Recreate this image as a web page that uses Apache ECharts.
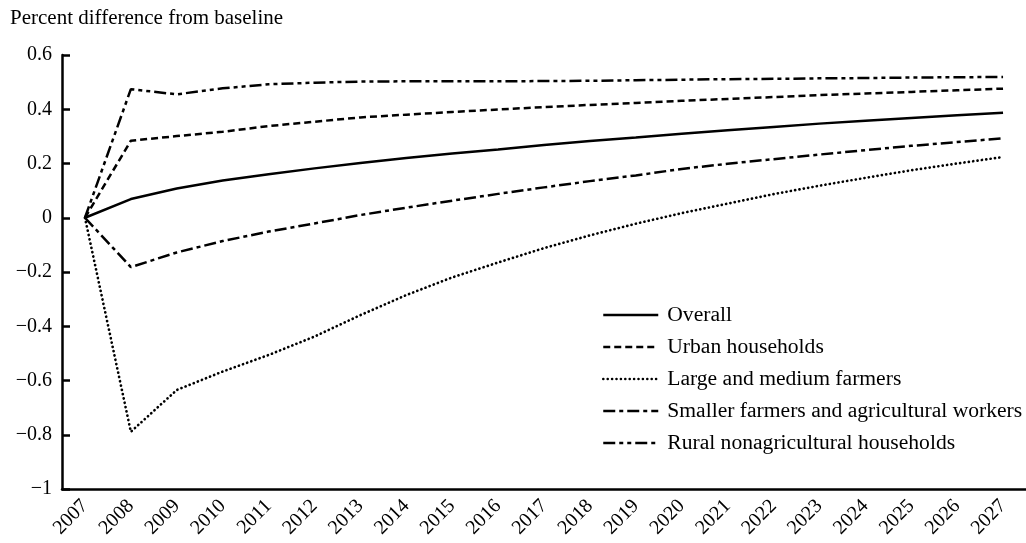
<!DOCTYPE html>
<html>
<head>
<meta charset="utf-8">
<script src="https://cdn.jsdelivr.net/npm/echarts@6/dist/echarts.min.js"></script>
<style>
  html, body { margin: 0; padding: 0; background: #fff; }
  #chart { width: 1026px; height: 543px; }
</style>
</head>
<body>
<div id="chart"></div>
<script>
const years = ['2007','2008','2009','2010','2011','2012','2013','2014','2015','2016','2017','2018','2019','2020','2021','2022','2023','2024','2025','2026','2027'];
const overall = [0, 0.069, 0.108, 0.137, 0.160, 0.182, 0.202, 0.220, 0.237, 0.252, 0.268, 0.283, 0.296, 0.310, 0.323, 0.335, 0.347, 0.358, 0.368, 0.378, 0.387];
const urban = [0, 0.284, 0.301, 0.317, 0.338, 0.354, 0.370, 0.380, 0.390, 0.399, 0.408, 0.416, 0.423, 0.431, 0.438, 0.445, 0.452, 0.458, 0.464, 0.470, 0.476];
const largeFarmers = [0, -0.789, -0.635, -0.567, -0.506, -0.438, -0.359, -0.285, -0.220, -0.165, -0.112, -0.065, -0.022, 0.017, 0.052, 0.087, 0.118, 0.147, 0.175, 0.200, 0.224];
const smallerFarmers = [0, -0.182, -0.128, -0.086, -0.051, -0.021, 0.010, 0.037, 0.063, 0.088, 0.112, 0.135, 0.156, 0.180, 0.199, 0.216, 0.233, 0.249, 0.265, 0.279, 0.293];
const rural = [0, 0.474, 0.455, 0.477, 0.492, 0.498, 0.502, 0.503, 0.503, 0.503, 0.504, 0.505, 0.507, 0.509, 0.511, 0.512, 0.514, 0.515, 0.517, 0.518, 0.519];
const seriesNames = ['Overall', 'Urban households', 'Large and medium farmers', 'Smaller farmers and agricultural workers', 'Rural nonagricultural households'];

const FONT = '"Liberation Serif", "Times New Roman", serif';
const chart = echarts.init(document.getElementById('chart'), null, { renderer: 'canvas' });

function fmtY(v) {
  const r = Math.round(v * 10) / 10;
  if (r === 0) return '0';
  return (r < 0 ? '\u2212' : '') + String(Math.abs(r));
}

function mk(name, data, type, width, cap) {
  return {
    name: name,
    type: 'line',
    data: data,
    symbol: 'none',
    showSymbol: false,
    animation: false,
    color: '#000',
    itemStyle: { color: '#000' },
    lineStyle: { color: '#000', width: width || 2.5, type: type, cap: cap || 'butt' }
  };
}

const option = {
  animation: false,
  backgroundColor: '#fff',
  color: ['#000'],
  title: {
    text: 'Percent difference from baseline',
    left: 5,
    top: 3,
    textStyle: { fontFamily: FONT, fontSize: 21, fontWeight: 'normal', color: '#000' }
  },
  legend: {
    orient: 'vertical',
    left: 597,
    top: 299,
    itemWidth: 55,
    itemHeight: 14,
    itemGap: 10,
    itemStyle: { opacity: 0 },
    lineStyle: { width: 2.5 },
    data: seriesNames,
    textStyle: { fontFamily: FONT, fontSize: 21.6, color: '#000', padding: [0, 0, 0, 4] }
  },
  grid: { left: 62, right: 0, top: 55, bottom: 54, containLabel: false },
  xAxis: {
    type: 'category',
    data: years,
    boundaryGap: true,
    axisLine: { onZero: false, lineStyle: { color: '#000', width: 2.5 } },
    axisTick: { alignWithLabel: true, inside: true, length: 8, lineStyle: { color: '#000', width: 2.5 } },
    axisLabel: { rotate: 45, margin: 14, interval: 0, fontFamily: FONT, fontSize: 20, color: '#000' },
    splitLine: { show: false }
  },
  yAxis: {
    type: 'value',
    min: -1,
    max: 0.6,
    interval: 0.2,
    axisLine: { show: true, lineStyle: { color: '#000', width: 2.5 } },
    axisTick: { show: true, inside: true, length: 8, lineStyle: { color: '#000', width: 2.5 } },
    axisLabel: { margin: 10, fontFamily: FONT, fontSize: 20, color: '#000', formatter: fmtY },
    splitLine: { show: false }
  },
  series: [
    mk(seriesNames[0], overall, 'solid'),
    mk(seriesNames[1], urban, [7, 4]),
    mk(seriesNames[2], largeFarmers, [0.1, 4.3], 2.7, 'round'),
    mk(seriesNames[3], smallerFarmers, [12, 4, 4, 4]),
    mk(seriesNames[4], rural, [12, 4, 4, 4, 4, 4])
  ]
};
chart.setOption(option);
</script>
</body>
</html>
